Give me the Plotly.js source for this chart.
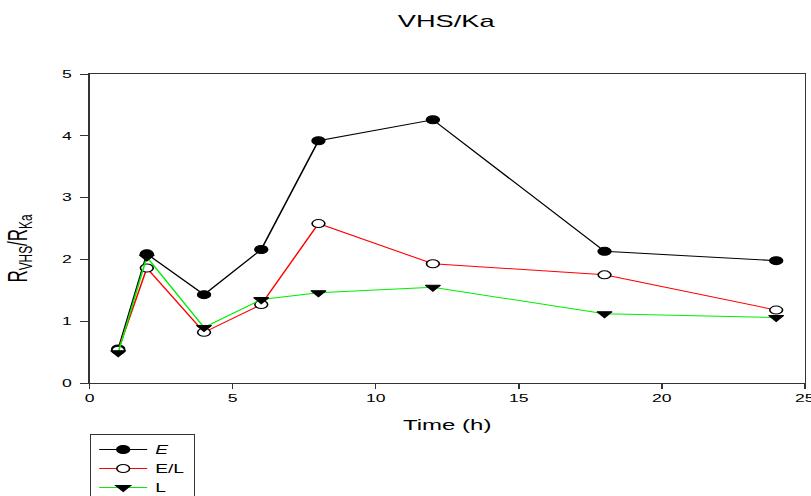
<!DOCTYPE html>
<html>
<head>
<meta charset="utf-8">
<script src="https://cdn.plot.ly/plotly-3.0.1.min.js"></script>
<style>
html,body{margin:0;padding:0;background:#fff;overflow:hidden;}
#chart{width:507px;height:496px;transform:scaleX(1.6);transform-origin:0 0;}
</style>
</head>
<body>
<div id="chart"></div>
<script>
const timeH = [1, 2, 4, 6, 8, 12, 18, 24];
const seriesE = [0.55, 2.09, 1.43, 2.16, 3.92, 4.26, 2.13, 1.98];
const seriesEL = [0.53, 1.86, 0.82, 1.27, 2.58, 1.93, 1.75, 1.18];
const seriesL = [0.49, 2.04, 0.90, 1.35, 1.46, 1.55, 1.12, 1.06];
const seriesNames = ['<i>E</i>', 'E/L', 'L'];
const xTicks = [0, 5, 10, 15, 20, 25];
const yTicks = [0, 1, 2, 3, 4, 5];
const yTitleText = 'R<sub>VHS</sub>/R<sub>Ka</sub>';

const font = 'Liberation Sans, Arial, sans-serif';
const traces = [
  {x: timeH, y: seriesE, name: seriesNames[0], mode: 'lines+markers', type: 'scatter',
   line: {color: '#000000', width: 1},
   marker: {symbol: 'circle', size: 8, color: '#000000', line: {color: '#000000', width: 1}}},
  {x: timeH, y: seriesEL, name: seriesNames[1], mode: 'lines+markers', type: 'scatter',
   line: {color: '#ff0000', width: 1},
   marker: {symbol: 'circle', size: 8, color: '#ffffff', line: {color: '#000000', width: 1}}},
  {x: timeH, y: seriesL, name: seriesNames[2], mode: 'lines+markers', type: 'scatter',
   line: {color: '#00ee00', width: 1},
   marker: {symbol: 'triangle-down', size: 8, color: '#000000', line: {color: '#000000', width: 1}}}
];
const layout = {
  width: 507, height: 496,
  margin: {l: 56, r: 4, t: 74, b: 113, autoexpand: false},
  paper_bgcolor: '#ffffff', plot_bgcolor: '#ffffff',
  font: {family: font, size: 11, color: '#000000'},
  title: {text: 'VHS/Ka', font: {family: font, size: 17, color: '#000000'}, x: 0.55, xanchor: 'center', y: 0.958, yanchor: 'middle'},
  xaxis: {
    range: [0, 25], tickvals: xTicks, ticktext: xTicks.map(String),
    ticks: 'outside', ticklen: 5, tickcolor: '#333333', tickwidth: 1,
    showline: true, linecolor: '#333333', linewidth: 1, mirror: true,
    showgrid: false, zeroline: false, ticklabeloverflow: 'allow',
    tickfont: {family: font, size: 11},
    title: {text: 'Time (h)', font: {family: font, size: 15}, standoff: 16}
  },
  yaxis: {
    range: [0, 5], tickvals: yTicks, ticktext: yTicks.map(String),
    ticks: 'outside', ticklen: 5, tickcolor: '#333333', tickwidth: 1,
    showline: true, linecolor: '#333333', linewidth: 1, mirror: true,
    showgrid: false, zeroline: false, ticklabeloverflow: 'allow', ticklabelstandoff: 3,
    tickfont: {family: font, size: 11}
  },
  annotations: [{
    text: yTitleText, textangle: -90, xref: 'paper', yref: 'paper',
    x: -0.097, y: 0.437, xanchor: 'center', yanchor: 'middle', showarrow: false,
    font: {family: font, size: 17, color: '#000000'}
  }],
  showlegend: true,
  legend: {
    x: 0, xanchor: 'left', y: -0.165, yanchor: 'top',
    bordercolor: '#333333', borderwidth: 1, bgcolor: '#ffffff',
    font: {family: font, size: 12}, tracegroupgap: 0
  }
};
Plotly.newPlot('chart', traces, layout, {displayModeBar: false, staticPlot: true});
</script>
</body>
</html>
